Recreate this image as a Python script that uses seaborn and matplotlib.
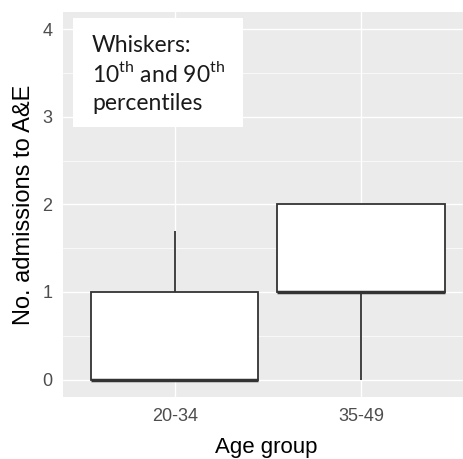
import matplotlib
matplotlib.use("Agg")
import matplotlib.pyplot as plt
from matplotlib.ticker import MultipleLocator
from matplotlib.patches import Rectangle
import pandas as pd
import seaborn as sns

# Summary statistics of A&E admissions per age group
groups = ["20-34", "35-49"]
p10 = [0, 0]
q1 = [0, 1]
median = [0, 1]
q3 = [1, 2]
p90 = [1.7, 2]

# Long-form table: whiskers span min..max of these values, i.e. the 10th..90th percentiles
rows = []
for i, g in enumerate(groups):
    for v in (p10[i], q1[i], median[i], q3[i], p90[i]):
        rows.append({"Age group": g, "admissions": v})
df = pd.DataFrame(rows)

sns.set_style("darkgrid", {
    "axes.facecolor": "#EBEBEB",
    "grid.color": "white",
    "axes.edgecolor": "none",
})
plt.rcParams["font.family"] = ["Liberation Sans", "DejaVu Sans"]
plt.rcParams["mathtext.fontset"] = "custom"
plt.rcParams["mathtext.rm"] = "Lato"

W, H = 463, 459
fig = plt.figure(figsize=(W / 100, H / 100), dpi=100)
ax = fig.add_axes([63 / W, 62 / H, 409.6 / W, 385 / H])

sns.boxplot(
    data=df, x="Age group", y="admissions", ax=ax,
    whis=(0, 100), showcaps=False, showfliers=False, width=0.9,
    color="white", linecolor="#333333", linewidth=1.3,
    boxprops={"facecolor": "white"},
    medianprops={"linewidth": 2.5, "color": "#333333"},
)

ax.set_xlim(-0.6, 1.6)
ax.set_ylim(-0.2, 4.2)
ax.set_yticks([0, 1, 2, 3, 4])
ax.yaxis.set_minor_locator(MultipleLocator(0.5))
ax.grid(which="major", color="white", linewidth=1.0)
ax.grid(which="minor", axis="y", color="white", linewidth=0.5)
ax.set_axisbelow(True)
for s in ax.spines.values():
    s.set_visible(False)

ax.tick_params(axis="both", which="major", length=3.6, width=0.8, color="#333333",
               labelcolor="#4D4D4D", labelsize=13)
ax.tick_params(axis="y", pad=4.0)
ax.tick_params(axis="x", pad=4.5)
ax.tick_params(which="minor", length=0)

ax.set_xlabel("Age group", fontsize=16, color="black")
ax.set_ylabel("No. admissions to A&E", fontsize=17, color="black")
ax.xaxis.set_label_coords(0.496, -0.104)
ax.yaxis.set_label_coords(-0.068, 0.5)

# Annotation box
ax.add_patch(Rectangle((-0.546, 2.891), 0.914, 1.235, facecolor="white",
                       edgecolor="none", zorder=5))
lines = ["Whiskers:", "10$^{\\mathrm{th}}$ and 90$^{\\mathrm{th}}$", "percentiles"]
baselines = [52, 82, 109.5]
for txt, yb in zip(lines, baselines):
    ax.text(92 / W, 1 - yb / H, txt, transform=fig.transFigure, ha="left",
            va="baseline", fontsize=16.5, family=["Lato", "DejaVu Sans"],
            color="#1a1a1a", zorder=6)

fig.savefig("out.png", dpi=100)
